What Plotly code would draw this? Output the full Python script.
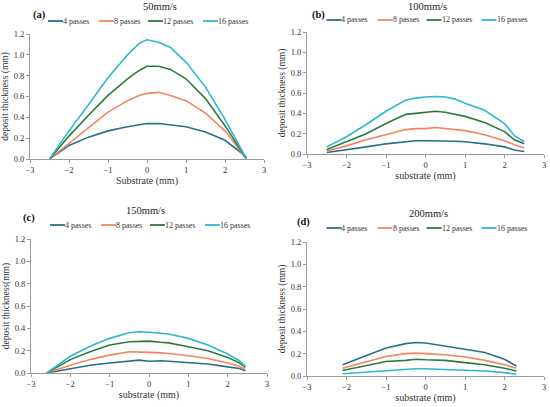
import plotly.graph_objects as go
from plotly.subplots import make_subplots

# (a) 50mm/s
x_a = [-2.5, -2.0, -1.5, -1.0, -0.5, -0.2, 0.0, 0.3, 0.6, 1.0, 1.5, 2.0, 2.55]
a_4 = [0.00, 0.13, 0.21, 0.27, 0.31, 0.33, 0.34, 0.34, 0.33, 0.31, 0.26, 0.18, 0.02]
a_8 = [0.00, 0.15, 0.30, 0.45, 0.56, 0.61, 0.63, 0.64, 0.61, 0.56, 0.44, 0.27, 0.00]
a_12 = [0.00, 0.22, 0.42, 0.61, 0.77, 0.85, 0.89, 0.89, 0.86, 0.77, 0.58, 0.32, 0.00]
a_16 = [0.00, 0.27, 0.52, 0.78, 1.00, 1.11, 1.145, 1.12, 1.07, 0.93, 0.69, 0.38, 0.00]

# (b) 100mm/s
x_b = [-2.5, -2.0, -1.5, -1.0, -0.5, -0.25, 0.0, 0.25, 0.5, 0.75, 1.0, 1.5, 2.0, 2.25, 2.5]
b_4 = [0.015, 0.04, 0.07, 0.10, 0.12, 0.13, 0.13, 0.13, 0.13, 0.125, 0.12, 0.10, 0.07, 0.04, 0.025]
b_8 = [0.03, 0.08, 0.14, 0.19, 0.24, 0.25, 0.25, 0.26, 0.25, 0.24, 0.23, 0.19, 0.13, 0.09, 0.06]
b_12 = [0.045, 0.12, 0.20, 0.30, 0.39, 0.40, 0.41, 0.42, 0.41, 0.39, 0.37, 0.31, 0.22, 0.14, 0.10]
b_16 = [0.07, 0.17, 0.29, 0.42, 0.53, 0.55, 0.56, 0.565, 0.56, 0.54, 0.50, 0.43, 0.30, 0.18, 0.12]

# (c) 150mm/s
x_c = [-2.6, -2.0, -1.5, -1.0, -0.5, -0.25, 0.0, 0.3, 0.5, 1.0, 1.5, 2.0, 2.3, 2.45]
c_4 = [0.00, 0.04, 0.07, 0.09, 0.11, 0.115, 0.105, 0.11, 0.105, 0.09, 0.08, 0.055, 0.04, 0.02]
c_8 = [0.00, 0.07, 0.12, 0.16, 0.19, 0.19, 0.185, 0.18, 0.175, 0.155, 0.13, 0.09, 0.06, 0.03]
c_12 = [0.00, 0.12, 0.19, 0.25, 0.28, 0.285, 0.285, 0.275, 0.27, 0.235, 0.20, 0.14, 0.09, 0.05]
c_16 = [0.00, 0.15, 0.24, 0.31, 0.36, 0.37, 0.365, 0.355, 0.35, 0.31, 0.25, 0.17, 0.11, 0.06]

# (d) 200mm/s
x_d = [-2.1, -1.5, -1.0, -0.5, -0.25, 0.0, 0.5, 1.0, 1.5, 2.0, 2.3]
d_4 = [0.10, 0.18, 0.25, 0.29, 0.30, 0.295, 0.27, 0.24, 0.21, 0.15, 0.09]
d_8 = [0.07, 0.13, 0.175, 0.20, 0.205, 0.20, 0.19, 0.17, 0.14, 0.10, 0.07]
d_12 = [0.05, 0.09, 0.13, 0.14, 0.15, 0.145, 0.14, 0.12, 0.10, 0.07, 0.045]
d_16 = [0.02, 0.035, 0.05, 0.065, 0.065, 0.065, 0.06, 0.055, 0.045, 0.03, 0.015]

labels = ['4 passes', '8 passes', '12 passes', '16 passes']
colors = ['#2a6f8a', '#f4845f', '#2e7a3c', '#2db8cf']

panels = [
    ('(a)', '50mm/s', x_a, [a_4, a_8, a_12, a_16], 'Substrate (mm)', 'deposit thickness (mm)'),
    ('(b)', '100mm/s', x_b, [b_4, b_8, b_12, b_16], 'substrate (mm)', 'deposit thickness (mm)'),
    ('(c)', '150mm/s', x_c, [c_4, c_8, c_12, c_16], 'substrate (mm)', 'deposit thickness(mm)'),
    ('(d)', '200mm/s', x_d, [d_4, d_8, d_12, d_16], 'substrate (mm)', 'deposit thickness (mm)'),
]

W, H = 550, 407
# plot-area boxes in pixels: left, right, top, bottom
boxes = [(30, 264, 34, 159), (307, 544, 32, 154), (31, 267, 239, 373), (307, 544, 242, 376)]
# title centre x / title y / legend y / tag x / tag y (pixels)
heads = [(160, 7, 21, 31, 15), (427, 7, 20, 310, 15),
         (145, 210, 225, 21, 218), (428, 213, 228, 295, 222)]
leg_offsets = [0, 51, 100, 155]   # legend entry starts relative to legend left
font = 'Liberation Serif'

fig = make_subplots(rows=2, cols=2)
shapes = []

for i, (tag, title, xs, series, xtitle, ytitle) in enumerate(panels):
    row, col = i // 2 + 1, i % 2 + 1
    for name, ys, c in zip(labels, series, colors):
        fig.add_trace(go.Scatter(x=xs, y=ys, mode='lines', name=name,
                                 line=dict(color=c, width=1.6), showlegend=False),
                      row=row, col=col)

    l, r, t, b = boxes[i]
    ax = '' if i == 0 else str(i + 1)
    fig.layout['xaxis' + ax].domain = [l / W, r / W]
    fig.layout['yaxis' + ax].domain = [1 - b / H, 1 - t / H]
    fig.update_xaxes(range=[-3, 3], dtick=1, showgrid=False, zeroline=False,
                     showline=True, linecolor='#9a9a9a', linewidth=1, automargin=False,
                     ticks='outside', ticklen=3, tickcolor='#9a9a9a',
                     tickfont=dict(size=8.5, color='#333'),
                     title=dict(text=xtitle, font=dict(size=10, color='#333'), standoff=2),
                     row=row, col=col)
    fig.update_yaxes(range=[0, 1.2], dtick=0.2, tickformat='.1f', showgrid=False,
                     zeroline=False, showline=True, linecolor='#9a9a9a', linewidth=1,
                     automargin=False, ticks='outside', ticklen=3, tickcolor='#9a9a9a',
                     tickfont=dict(size=8.5, color='#333'),
                     title=dict(text=ytitle, font=dict(size=9.5, color='#333'), standoff=3),
                     row=row, col=col)

    tx, ty, ly, gx, gy = heads[i]
    fig.add_annotation(x=tx / W, y=1 - ty / H, xref='paper', yref='paper',
                       xanchor='center', yanchor='middle',
                       text=title, showarrow=False, font=dict(size=10.5, color='#222'))
    fig.add_annotation(x=gx / W, y=1 - gy / H, xref='paper', yref='paper',
                       xanchor='left', yanchor='middle', text=f'<b>{tag}</b>',
                       showarrow=False, font=dict(size=10.5, color='#111'))

    # legend row
    start = (l + r) / 2 - 99
    for off, name, c in zip(leg_offsets, labels, colors):
        x0 = start + off
        shapes.append(dict(type='line', xref='paper', yref='paper',
                           x0=x0 / W, x1=(x0 + 15) / W, y0=1 - ly / H, y1=1 - ly / H,
                           line=dict(color=c, width=1.8)))
        fig.add_annotation(x=(x0 + 15) / W, y=1 - ly / H, xref='paper', yref='paper',
                           xanchor='left', yanchor='middle', text=name,
                           showarrow=False, xshift=-2, font=dict(size=8, color='#333'))

fig.update_layout(width=W, height=H, margin=dict(l=0, r=0, t=0, b=0),
                  plot_bgcolor='white', paper_bgcolor='white',
                  font=dict(family=font), shapes=shapes)

# drop the default page margin so the figure sits at the window's corner
fig.write_html("out.html", config={'displayModeBar': False},
               post_script="document.body.style.margin='0';")
